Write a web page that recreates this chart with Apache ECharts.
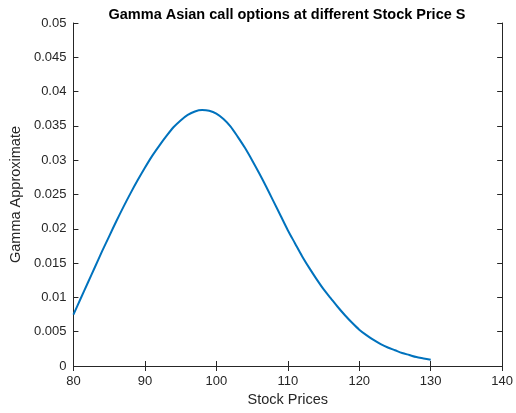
<!DOCTYPE html>
<html>
<head>
<meta charset="utf-8">
<script src="https://cdn.jsdelivr.net/npm/echarts@6/dist/echarts.min.js"></script>
<style>
  html, body { margin: 0; padding: 0; background: #fff; }
  #chart { width: 516px; height: 413px; }
</style>
</head>
<body>
<div id="chart"></div>
<script>
// Stock prices S (1-unit steps) and the approximated gamma of the Asian call
const stockPrices = [
  80, 81, 82, 83, 84, 85, 86, 87, 88, 89,
  90, 91, 92, 93, 94, 95, 96, 97, 98, 99,
  100, 101, 102, 103, 104, 105, 106, 107, 108, 109,
  110, 111, 112, 113, 114, 115, 116, 117, 118, 119,
  120, 121, 122, 123, 124, 125, 126, 127, 128, 129, 130
];
const gammaValues = [
  0.0075, 0.0098, 0.0121, 0.0144, 0.0167, 0.0189, 0.0211, 0.0232, 0.0252, 0.0271,
  0.0289, 0.0306, 0.0321, 0.0335, 0.0348, 0.0358, 0.0366, 0.0371, 0.0373, 0.0372,
  0.0368, 0.0360, 0.0349, 0.0334, 0.0318, 0.0300, 0.0281, 0.0261, 0.0240, 0.0219,
  0.0198, 0.0179, 0.0160, 0.0143, 0.0127, 0.0112, 0.0099, 0.0086, 0.0074, 0.0063,
  0.0053, 0.0045, 0.0038, 0.0032, 0.0027, 0.0023, 0.0019, 0.0016, 0.0013, 0.0011, 0.0009
];
const xTicks = [80, 90, 100, 110, 120, 130, 140];
const yTicks = [0, 0.005, 0.01, 0.015, 0.02, 0.025, 0.03, 0.035, 0.04, 0.045, 0.05];

const axisColor = '#262626';
const fontFamily = 'Liberation Sans, Arial, Helvetica, sans-serif';

const chart = echarts.init(document.getElementById('chart'), null, { renderer: 'canvas' });

const tickStyle = { show: true, inside: true, length: 5, lineStyle: { color: axisColor, width: 1 } };
const lineStyle = { show: true, lineStyle: { color: axisColor, width: 1 } };

chart.setOption({
  animation: false,
  backgroundColor: '#ffffff',
  title: {
    text: 'Gamma Asian call options at different Stock Price S',
    left: 282,
    textAlign: 'center',
    top: 2,
    textStyle: { fontFamily, fontSize: 14.5, fontWeight: 'bold', color: '#000' }
  },
  grid: { left: 71.7, right: 11, top: 23, bottom: 47, containLabel: false },
  xAxis: [
    {
      type: 'value',
      min: xTicks[0],
      max: xTicks[xTicks.length - 1],
      interval: 10,
      position: 'bottom',
      name: 'Stock Prices',
      nameLocation: 'middle',
      nameGap: 26,
      nameTextStyle: { fontFamily, fontSize: 14.5, color: axisColor },
      axisLine: lineStyle,
      axisTick: tickStyle,
      axisLabel: { fontFamily, fontSize: 13, color: axisColor, margin: 9 },
      splitLine: { show: false }
    },
    {
      type: 'value',
      min: xTicks[0],
      max: xTicks[xTicks.length - 1],
      interval: 10,
      position: 'top',
      axisLine: lineStyle,
      axisTick: tickStyle,
      axisLabel: { show: false },
      splitLine: { show: false }
    }
  ],
  yAxis: [
    {
      type: 'value',
      min: yTicks[0],
      max: yTicks[yTicks.length - 1],
      interval: 0.005,
      position: 'left',
      name: 'Gamma Approximate',
      nameLocation: 'middle',
      nameGap: 42,
      nameTextStyle: { fontFamily, fontSize: 14.5, color: axisColor },
      axisLine: lineStyle,
      axisTick: tickStyle,
      axisLabel: {
        fontFamily, fontSize: 13, color: axisColor, margin: 7,
        formatter: v => String(parseFloat(v.toFixed(3)))
      },
      splitLine: { show: false }
    },
    {
      type: 'value',
      min: yTicks[0],
      max: yTicks[yTicks.length - 1],
      interval: 0.005,
      position: 'right',
      axisLine: lineStyle,
      axisTick: tickStyle,
      axisLabel: { show: false },
      splitLine: { show: false }
    }
  ],
  series: [
    {
      type: 'line',
      xAxisIndex: 0,
      yAxisIndex: 0,
      data: stockPrices.map((s, i) => [s, gammaValues[i]]),
      smooth: 0.3,
      showSymbol: false,
      lineStyle: { color: '#0072BD', width: 2 }
    }
  ]
});
</script>
</body>
</html>
